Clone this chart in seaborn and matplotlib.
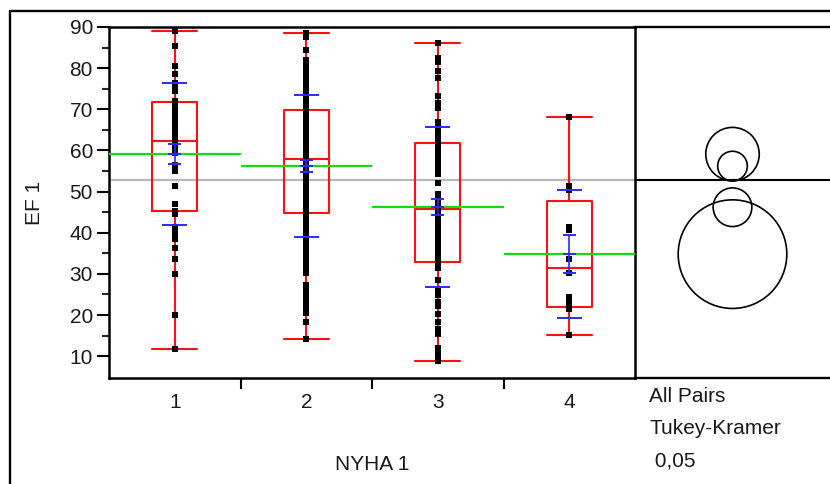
import numpy as np
import pandas as pd
import matplotlib
matplotlib.use("Agg")
import matplotlib.pyplot as plt
import seaborn as sns
from matplotlib.patches import Circle
from matplotlib.lines import Line2D

# ---------------- data ----------------
groups = ["1", "2", "3", "4"]
ef_nyha1 = [89, 85.5, 80.5, 78.5, 76.5, 75.5, 75, 74.5, 72, 71, 70, 69, 68, 67, 66, 65,
            63.5, 62.5, 62, 61, 60, 59.5, 56.5, 56, 55.5, 55, 51.3, 47, 45.3, 44.5,
            41.5, 40.5, 39.5, 38.5, 36.2, 33.5, 30, 20.1, 11.8]
ef_nyha2 = [88.5, 87.5, 84.5, 82, 81, 80, 79, 78, 77, 76, 75, 74, 73, 72, 71, 70, 69, 68,
            67, 66, 65, 64, 63, 62, 61, 60, 59, 58, 57, 56, 55, 54, 53, 52, 51, 50, 49,
            48, 47, 45.5, 44.5, 43.5, 42.4, 41, 40, 39, 38, 37, 36, 35, 34, 33, 31.4,
            30.2, 27.4, 26.4, 25.4, 24.4, 23.4, 22.4, 21.4, 20.5, 18.3, 14.2]
ef_nyha3 = [86, 82.5, 81.5, 79.3, 77.5, 73.2, 71.5, 70.2, 66.8, 65.5, 64.3, 63, 62, 60.5,
            59.5, 58.5, 57.5, 57, 55.5, 54.3, 52, 49.5, 48.5, 47.5, 46.5, 45.5, 44.5,
            43.5, 42.5, 41.5, 40.5, 39.5, 38.5, 37.5, 36.5, 35.5, 34.5, 33.5, 32.5,
            31.5, 28.4, 25.9, 24.9, 23.2, 22.2, 20.3, 18.2, 16.5, 15.3, 12, 10.9, 9.8, 8.8]
ef_nyha4 = [68.2, 51.3, 50.3, 41.5, 40.6, 33.5, 30.2, 24.5, 23.5, 22.5, 21.5, 15.2]

# box plot statistics (outlier box plot)
box_q1 = [45.2, 44.7, 32.8, 22.0]
box_median = [62.3, 58.0, 45.7, 31.5]
box_q3 = [71.8, 69.9, 61.7, 47.6]
whisker_low = [11.8, 14.2, 8.8, 15.2]
whisker_high = [89.0, 88.5, 86.0, 68.2]

# means, std dev, 95% CI half width
group_means = [59.1, 56.2, 46.2, 34.8]
group_std = [17.3, 17.25, 19.45, 15.6]
group_ci = [2.35, 1.5, 1.9, 4.55]
grand_mean = 52.7

# comparison circles (Tukey-Kramer) radii
circle_radii = [6.5, 3.6, 4.7, 13.2]

y_ticks = [10, 20, 30, 40, 50, 60, 70, 80, 90]
x_title = "NYHA 1"
y_title = "EF 1"
test_text = ["All Pairs", "Tukey-Kramer", " 0,05"]

# ---------------- style ----------------
sns.set_theme(style="white")
plt.rcParams['font.family'] = ['Liberation Sans', 'DejaVu Sans']

RED = "#ff1010"
BLUE = "#2a2aff"
GREEN = "#11dd11"
GRAY = "#b8b8b8"
FS = 15

W, H = 830, 484
fig = plt.figure(figsize=(W / 100, H / 100), dpi=100)
L, R, T, B = 109, 635, 27, 378
axc = fig.add_axes([R / W, 1 - B / H, (W + 10 - R) / W, (B - T) / H])
ax = fig.add_axes([L / W, 1 - B / H, (R - L) / W, (B - T) / H])
ax.set_zorder(2)
axc.set_zorder(1)
ax.patch.set_visible(False)

df = pd.DataFrame({
    "NYHA 1": ["1"] * len(ef_nyha1) + ["2"] * len(ef_nyha2) + ["3"] * len(ef_nyha3) + ["4"] * len(ef_nyha4),
    "EF 1": ef_nyha1 + ef_nyha2 + ef_nyha3 + ef_nyha4,
})

ylo, yhi = 4.7, 90

# grand mean line
ax.axhline(grand_mean, color=GRAY, lw=1.6, zorder=1)

# boxes
pos = np.arange(len(groups))
stats = [dict(med=box_median[i], q1=box_q1[i], q3=box_q3[i],
              whislo=whisker_low[i], whishi=whisker_high[i], fliers=[])
         for i in range(len(groups))]
lp = dict(color=RED, lw=1.5)
ax.bxp(stats, positions=pos, widths=0.342, capwidths=0.342, showfliers=False,
       boxprops=lp, whiskerprops=lp, capprops=lp, medianprops=lp,
       manage_ticks=False, zorder=2)

# mean lines (across each group's bin)
ax.hlines(group_means, pos - 0.5, pos + 0.5, color=GREEN, lw=1.6, zorder=3)

# points
sns.stripplot(data=df, x="NYHA 1", y="EF 1", order=groups, jitter=False, marker='s',
              size=3.9, color='black', linewidth=0, ax=ax, zorder=4)

# std dev lines and mean error bars
m = np.array(group_means)
sd = np.array(group_std)
ci = np.array(group_ci)
ax.hlines(m + sd, pos - 0.095, pos + 0.095, color=BLUE, lw=1.4, zorder=5)
ax.hlines(m - sd, pos - 0.095, pos + 0.095, color=BLUE, lw=1.4, zorder=5)
ax.hlines(m, pos - 0.05, pos + 0.05, color=BLUE, lw=1.4, zorder=5)
ax.hlines(m + ci, pos - 0.05, pos + 0.05, color=BLUE, lw=1.4, zorder=5)
ax.hlines(m - ci, pos - 0.05, pos + 0.05, color=BLUE, lw=1.4, zorder=5)
ax.vlines(pos, m - ci, m + ci, color=BLUE, lw=1.2, zorder=5)

ax.set_xlim(-0.5, len(groups) - 0.5)
ax.set_ylim(ylo, yhi)
ax.set_yticks(y_ticks)
ax.set_yticks(np.arange(15, 90, 10), minor=True)
ax.tick_params(axis='y', which='major', direction='out', length=8.6, width=1.5,
               labelsize=FS, pad=3, left=True, colors='black', labelcolor='#1a1a1a')
ax.tick_params(axis='y', which='minor', direction='out', length=5, width=1.5, left=True)
ax.set_xticks(pos)
ax.set_xticklabels(groups)
ax.set_xticks([0.5, 1.5, 2.5], minor=True)
ax.tick_params(axis='x', which='major', length=0, pad=11, labelsize=FS, labelcolor='#1a1a1a')
ax.tick_params(axis='x', which='minor', direction='out', length=8, width=1.5,
               bottom=True, colors='black')
for sp in ax.spines.values():
    sp.set_color('black')
    sp.set_linewidth(1.8)

ax.set_xlabel(x_title, fontsize=FS, color='#1a1a1a')
ax.xaxis.set_label_coords(0.5, (B - 464) / (B - T))
ax.xaxis.label.set_va('center')
ax.set_ylabel(y_title, fontsize=FS, color='#1a1a1a')
ax.yaxis.set_label_coords((34 - L) / (R - L), 0.5)
ax.yaxis.label.set_va('center')

# comparison circles panel
axc.set_ylim(ylo, yhi)
px_per_unit = (B - T) / (yhi - ylo)
axc.set_xlim(0, (W + 10 - R) / px_per_unit)
cx = ((W - R) / 2) / px_per_unit
for mu, r in zip(group_means, circle_radii):
    axc.add_patch(Circle((cx, mu), r, fill=False, ec='black', lw=1.2))
axc.axhline(grand_mean, color='black', lw=1.5)
axc.set_xticks([])
axc.set_yticks([])
axc.spines['left'].set_visible(False)
axc.spines['right'].set_visible(False)
for s in ('top', 'bottom'):
    axc.spines[s].set_color('black')
    axc.spines[s].set_linewidth(1.7)

# outer frame
fig.add_artist(Line2D([10 / W, 10 / W], [0, 1 - 11 / H], transform=fig.transFigure,
                      color='black', lw=1.7))
fig.add_artist(Line2D([10 / W, 1], [1 - 11 / H, 1 - 11 / H], transform=fig.transFigure,
                      color='black', lw=1.7))

for txt, yy in zip(test_text, [396, 428, 461]):
    fig.text(649 / W, 1 - yy / H, txt, ha='left', va='center', fontsize=FS, color='#1a1a1a')

fig.savefig("out.png", dpi=100)
